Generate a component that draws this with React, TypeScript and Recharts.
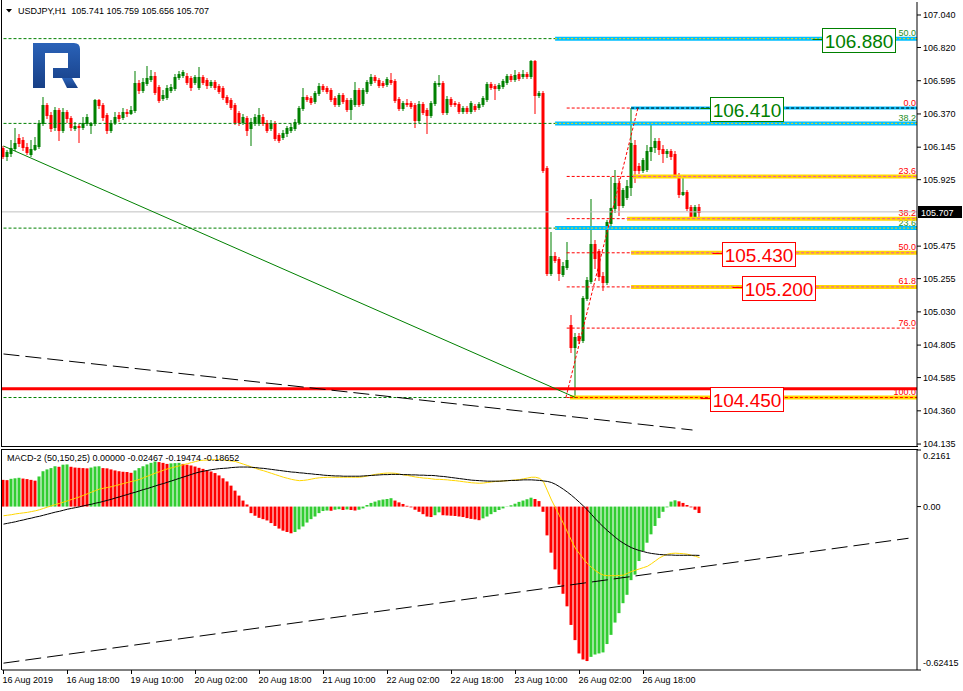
import React from 'react';
import {
  Bar,
  Cell,
  ComposedChart,
  Line,
  ReferenceDot,
  ReferenceLine,
  XAxis,
  YAxis,
} from 'recharts';

const symbol = 'USDJPY';
const period = 'H1';

// hourly candles, 16 Aug 2019 00:00 .. 26 Aug 2019 ~22:00
const openPrices = [
  106.140, 106.085, 106.106, 106.140, 106.207, 106.194, 106.146, 106.099, 106.133, 106.153,
  106.309, 106.431, 106.363, 106.282, 106.397, 106.261, 106.383, 106.343, 106.275, 106.288,
  106.282, 106.309, 106.295, 106.309, 106.465, 106.431, 106.363, 106.261, 106.316, 106.363,
  106.349, 106.383, 106.376, 106.397, 106.580, 106.532, 106.580, 106.607, 106.627, 106.553,
  106.478, 106.485, 106.532, 106.546, 106.620, 106.634, 106.627, 106.613, 106.586, 106.553,
  106.620, 106.600, 106.566, 106.586, 106.559, 106.546, 106.485, 106.465, 106.431, 106.376,
  106.316, 106.343, 106.275, 106.309, 106.309, 106.349, 106.309, 106.275, 106.309, 106.228,
  106.214, 106.241, 106.261, 106.275, 106.316, 106.410, 106.485, 106.478, 106.458, 106.512,
  106.559, 106.546, 106.532, 106.478, 106.437, 106.498, 106.465, 106.403, 106.437, 106.532,
  106.444, 106.525, 106.580, 106.620, 106.600, 106.580, 106.573, 106.600, 106.593, 106.471,
  106.410, 106.444, 106.444, 106.431, 106.329, 106.437, 106.397, 106.363, 106.444, 106.573,
  106.580, 106.383, 106.471, 106.444, 106.437, 106.390, 106.410, 106.390, 106.424, 106.417,
  106.437, 106.471, 106.573, 106.559, 106.546, 106.559, 106.586, 106.627, 106.607, 106.641,
  106.627, 106.641, 106.627, 106.729, 106.498, 106.512, 106.004, 105.293, 105.408, 105.388,
  105.286, 105.334, 104.941, 104.792, 104.866, 104.840, 105.124, 105.239, 105.490, 105.442,
  105.273, 105.232, 105.632, 105.733, 105.902, 105.753, 105.808, 105.875, 106.160, 106.018,
  105.991, 105.998, 106.119, 106.146, 106.187, 106.133, 106.106, 106.119, 106.099, 105.957,
  105.828, 105.841, 105.740, 105.666, 105.741,
];
const highPrices = [
  106.153, 106.126, 106.194, 106.275, 106.234, 106.214, 106.173, 106.194, 106.214, 106.329,
  106.485, 106.444, 106.383, 106.417, 106.410, 106.410, 106.397, 106.356, 106.316, 106.302,
  106.349, 106.370, 106.316, 106.471, 106.471, 106.444, 106.376, 106.329, 106.383, 106.383,
  106.410, 106.403, 106.424, 106.661, 106.600, 106.613, 106.695, 106.668, 106.654, 106.566,
  106.532, 106.566, 106.573, 106.641, 106.661, 106.668, 106.647, 106.627, 106.634, 106.688,
  106.634, 106.613, 106.600, 106.600, 106.573, 106.559, 106.498, 106.478, 106.444, 106.390,
  106.370, 106.356, 106.343, 106.370, 106.410, 106.370, 106.329, 106.329, 106.322, 106.241,
  106.261, 106.288, 106.302, 106.336, 106.424, 106.546, 106.498, 106.492, 106.525, 106.580,
  106.573, 106.559, 106.546, 106.492, 106.512, 106.512, 106.478, 106.478, 106.586, 106.546,
  106.546, 106.600, 106.641, 106.634, 106.613, 106.593, 106.620, 106.647, 106.607, 106.485,
  106.458, 106.471, 106.458, 106.444, 106.458, 106.451, 106.410, 106.458, 106.593, 106.634,
  106.593, 106.492, 106.485, 106.458, 106.451, 106.424, 106.424, 106.458, 106.437, 106.451,
  106.492, 106.586, 106.586, 106.573, 106.580, 106.607, 106.641, 106.641, 106.668, 106.654,
  106.668, 106.654, 106.735, 106.735, 106.525, 106.525, 106.018, 105.571, 105.435, 105.401,
  105.367, 105.503, 105.009, 104.887, 104.887, 105.137, 105.266, 105.794, 105.517, 105.456,
  105.300, 105.652, 105.943, 105.991, 105.936, 105.869, 105.923, 106.410, 106.194, 106.038,
  106.072, 106.160, 106.295, 106.207, 106.207, 106.160, 106.133, 106.133, 106.119, 105.970,
  105.943, 105.855, 105.753, 105.753, 105.759,
];
const lowPrices = [
  106.072, 106.058, 106.085, 106.126, 106.153, 106.126, 106.099, 106.085, 106.126, 106.140,
  106.295, 106.343, 106.255, 106.261, 106.194, 106.248, 106.316, 106.261, 106.261, 106.180,
  106.268, 106.295, 106.241, 106.295, 106.410, 106.329, 106.241, 106.248, 106.302, 106.322,
  106.336, 106.356, 106.370, 106.383, 106.512, 106.519, 106.566, 106.593, 106.505, 106.451,
  106.465, 106.471, 106.519, 106.532, 106.607, 106.620, 106.573, 106.532, 106.573, 106.539,
  106.573, 106.546, 106.553, 106.539, 106.512, 106.471, 106.437, 106.403, 106.302, 106.295,
  106.302, 106.228, 106.160, 106.295, 106.295, 106.295, 106.248, 106.261, 106.194, 106.180,
  106.200, 106.221, 106.248, 106.261, 106.302, 106.397, 106.458, 106.437, 106.444, 106.498,
  106.525, 106.512, 106.458, 106.424, 106.424, 106.444, 106.390, 106.336, 106.424, 106.424,
  106.431, 106.512, 106.566, 106.586, 106.553, 106.553, 106.559, 106.573, 106.451, 106.397,
  106.397, 106.424, 106.410, 106.282, 106.316, 106.370, 106.241, 106.349, 106.431, 106.559,
  106.370, 106.370, 106.424, 106.424, 106.376, 106.376, 106.376, 106.376, 106.390, 106.403,
  106.424, 106.458, 106.539, 106.471, 106.532, 106.546, 106.573, 106.593, 106.593, 106.600,
  106.613, 106.613, 106.613, 106.376, 106.485, 105.977, 105.280, 105.280, 105.367, 105.246,
  105.273, 105.320, 104.758, 104.450, 104.819, 104.826, 105.110, 105.225, 105.327, 105.246,
  105.178, 105.219, 105.611, 105.706, 105.686, 105.740, 105.794, 105.821, 105.909, 105.970,
  105.977, 105.984, 106.058, 106.112, 106.099, 106.045, 106.079, 106.065, 105.950, 105.808,
  105.821, 105.720, 105.666, 105.659, 105.656,
];
const closePrices = [
  106.085, 106.112, 106.140, 106.173, 106.173, 106.146, 106.112, 106.133, 106.160, 106.309,
  106.431, 106.363, 106.275, 106.397, 106.261, 106.383, 106.343, 106.282, 106.288, 106.282,
  106.309, 106.349, 106.309, 106.465, 106.431, 106.349, 106.261, 106.309, 106.349, 106.343,
  106.383, 106.376, 106.397, 106.580, 106.532, 106.586, 106.613, 106.627, 106.519, 106.465,
  106.498, 106.546, 106.553, 106.620, 106.641, 106.654, 106.586, 106.553, 106.620, 106.620,
  106.586, 106.566, 106.586, 106.553, 106.525, 106.485, 106.451, 106.417, 106.316, 106.316,
  106.349, 106.261, 106.316, 106.349, 106.363, 106.309, 106.261, 106.309, 106.207, 106.194,
  106.241, 106.275, 106.282, 106.316, 106.410, 106.485, 106.471, 106.451, 106.512, 106.559,
  106.539, 106.525, 106.471, 106.437, 106.498, 106.458, 106.403, 106.465, 106.532, 106.437,
  106.532, 106.586, 106.620, 106.600, 106.566, 106.566, 106.607, 106.586, 106.465, 106.410,
  106.444, 106.437, 106.424, 106.329, 106.437, 106.383, 106.363, 106.444, 106.580, 106.580,
  106.383, 106.471, 106.437, 106.437, 106.390, 106.410, 106.390, 106.444, 106.403, 106.437,
  106.478, 106.573, 106.553, 106.546, 106.566, 106.593, 106.627, 106.607, 106.634, 106.613,
  106.641, 106.627, 106.729, 106.498, 106.512, 105.991, 105.293, 105.408, 105.381, 105.293,
  105.340, 105.381, 104.792, 104.860, 104.840, 105.124, 105.246, 105.490, 105.395, 105.273,
  105.232, 105.638, 105.733, 105.902, 105.753, 105.855, 105.882, 106.173, 105.991, 105.991,
  106.058, 106.119, 106.146, 106.187, 106.133, 106.106, 106.119, 106.085, 105.957, 105.828,
  105.841, 105.733, 105.667, 105.740, 105.707,
];

// MACD-2 (50,150,25): histogram, yellow line, black line
const macdHist = [
  0.102, 0.101, 0.106, 0.108, 0.110, 0.107, 0.105, 0.102, 0.099, 0.115,
  0.135, 0.142, 0.147, 0.154, 0.152, 0.160, 0.161, 0.152, 0.149, 0.148,
  0.147, 0.146, 0.149, 0.153, 0.154, 0.147, 0.146, 0.142, 0.138, 0.135,
  0.133, 0.132, 0.129, 0.138, 0.147, 0.154, 0.161, 0.167, 0.172, 0.170,
  0.167, 0.163, 0.165, 0.166, 0.167, 0.163, 0.160, 0.157, 0.153, 0.148,
  0.144, 0.139, 0.134, 0.128, 0.119, 0.108, 0.096, 0.080, 0.061, 0.042,
  0.023, 0.008, -0.025, -0.035, -0.043, -0.048, -0.053, -0.063, -0.074, -0.084,
  -0.092, -0.097, -0.102, -0.097, -0.087, -0.076, -0.061, -0.048, -0.038, -0.025,
  -0.017, -0.015, -0.016, -0.012, -0.010, -0.013, -0.011, -0.013, -0.015, -0.012,
  -0.007, 0.006, 0.014, 0.019, 0.024, 0.027, 0.029, 0.032, 0.023, 0.016,
  0.010, 0.003, -0.003, -0.012, -0.020, -0.029, -0.038, -0.040, -0.033, -0.022,
  -0.033, -0.034, -0.035, -0.036, -0.038, -0.040, -0.044, -0.047, -0.049, -0.052,
  -0.045, -0.038, -0.029, -0.021, -0.013, -0.007, 0.001, 0.005, 0.011, 0.018,
  0.023, 0.028, 0.034, 0.029, 0.021, -0.020, -0.110, -0.176, -0.240, -0.298,
  -0.333, -0.381, -0.452, -0.510, -0.561, -0.584, -0.590, -0.574, -0.565, -0.561,
  -0.557, -0.525, -0.490, -0.443, -0.407, -0.369, -0.337, -0.281, -0.260, -0.208,
  -0.170, -0.138, -0.106, -0.074, -0.044, -0.020, -0.003, 0.019, 0.024, 0.020,
  0.014, 0.006, -0.003, -0.012, -0.02467,
];
const macdYellow = [
  -0.035, -0.033, -0.031, -0.028, -0.026, -0.024, -0.022, -0.019, -0.016, -0.012,
  -0.007, -0.002, 0.003, 0.008, 0.012, 0.017, 0.022, 0.027, 0.032, 0.037,
  0.043, 0.049, 0.055, 0.061, 0.067, 0.070, 0.073, 0.076, 0.080, 0.084,
  0.088, 0.092, 0.096, 0.099, 0.104, 0.110, 0.116, 0.122, 0.128, 0.133,
  0.139, 0.144, 0.148, 0.152, 0.156, 0.160, 0.164, 0.168, 0.172, 0.176,
  0.177, 0.178, 0.179, 0.179, 0.179, 0.178, 0.176, 0.174, 0.172, 0.167,
  0.162, 0.157, 0.151, 0.146, 0.141, 0.137, 0.132, 0.127, 0.122, 0.117,
  0.112, 0.108, 0.104, 0.101, 0.099, 0.100, 0.102, 0.105, 0.108, 0.110,
  0.111, 0.112, 0.112, 0.112, 0.112, 0.112, 0.112, 0.112, 0.112, 0.112,
  0.114, 0.117, 0.120, 0.123, 0.125, 0.127, 0.128, 0.128, 0.127, 0.124,
  0.121, 0.119, 0.116, 0.113, 0.111, 0.109, 0.108, 0.106, 0.104, 0.104,
  0.103, 0.102, 0.100, 0.099, 0.097, 0.095, 0.093, 0.091, 0.090, 0.089,
  0.090, 0.092, 0.094, 0.096, 0.097, 0.098, 0.099, 0.100, 0.102, 0.103,
  0.106, 0.109, 0.112, 0.112, 0.108, 0.095, 0.060, 0.025, -0.005, -0.035,
  -0.065, -0.098, -0.130, -0.160, -0.180, -0.200, -0.218, -0.232, -0.245, -0.255,
  -0.262, -0.264, -0.264, -0.264, -0.263, -0.262, -0.255, -0.248, -0.243, -0.238,
  -0.233, -0.228, -0.218, -0.207, -0.196, -0.188, -0.182, -0.179, -0.178, -0.179,
  -0.180, -0.182, -0.186, -0.190, -0.19474,
];
const macdBlack = [
  -0.067, -0.064, -0.061, -0.058, -0.054, -0.051, -0.047, -0.044, -0.040, -0.037,
  -0.033, -0.029, -0.025, -0.021, -0.018, -0.014, -0.010, -0.007, -0.004, -0.001,
  0.003, 0.006, 0.009, 0.013, 0.016, 0.020, 0.024, 0.028, 0.033, 0.037,
  0.042, 0.046, 0.051, 0.055, 0.060, 0.065, 0.069, 0.074, 0.079, 0.084,
  0.088, 0.093, 0.098, 0.103, 0.108, 0.113, 0.118, 0.123, 0.128, 0.132,
  0.135, 0.138, 0.141, 0.143, 0.145, 0.146, 0.147, 0.149, 0.150, 0.151,
  0.151, 0.151, 0.150, 0.149, 0.147, 0.146, 0.144, 0.142, 0.140, 0.138,
  0.136, 0.134, 0.132, 0.131, 0.129, 0.128, 0.126, 0.125, 0.123, 0.122,
  0.120, 0.119, 0.118, 0.117, 0.117, 0.116, 0.116, 0.116, 0.116, 0.116,
  0.117, 0.118, 0.119, 0.120, 0.121, 0.122, 0.122, 0.123, 0.123, 0.123,
  0.122, 0.122, 0.121, 0.121, 0.120, 0.120, 0.119, 0.119, 0.118, 0.116,
  0.115, 0.113, 0.111, 0.109, 0.107, 0.105, 0.103, 0.101, 0.100, 0.099,
  0.098, 0.097, 0.097, 0.097, 0.097, 0.098, 0.099, 0.100, 0.100, 0.101,
  0.102, 0.102, 0.102, 0.101, 0.100, 0.098, 0.096, 0.092, 0.085, 0.076,
  0.066, 0.055, 0.043, 0.030, 0.016, 0.002, -0.013, -0.030, -0.047, -0.063,
  -0.078, -0.092, -0.105, -0.118, -0.130, -0.140, -0.149, -0.157, -0.163, -0.168,
  -0.172, -0.176, -0.179, -0.181, -0.183, -0.184, -0.185, -0.185, -0.186, -0.186,
  -0.186, -0.186, -0.186, -0.186, -0.18652,
];

const timeTickBars = [0, 16, 32, 48, 64, 80, 96, 112, 128, 144, 160];
const timeTickLabels = [
  '16 Aug 2019', '16 Aug 18:00', '19 Aug 10:00', '20 Aug 02:00', '20 Aug 18:00',
  '21 Aug 10:00', '22 Aug 02:00', '22 Aug 18:00', '23 Aug 10:00', '26 Aug 02:00', '26 Aug 18:00',
];
const priceTicks = [
  107.04, 106.82, 106.595, 106.37, 106.145, 105.925, 105.475, 105.255, 105.03, 104.805,
  104.585, 104.36, 104.135,
];
const macdTicks = [0.2161, 0, -0.62415];
const macdTickLabels = ['0.2161', '0.00', '-0.62415'];

// red fibo: 26 Aug low 104.45 -> high 106.41
const redFibRatios = ['0.0', '23.6', '38.2', '50.0', '61.8', '76.0', '100.0'];
const redFibPrices = [106.41, 105.947, 105.661, 105.43, 105.199, 104.92, 104.45];
// green fibo, only the levels that fall on the chart
const greenFibRatios = ['50.0', '38.2', '23.6'];
const greenFibPrices = [106.88, 106.306, 105.597];
const greenFibBase = 104.45;
const supportPrice = 104.51;
const tagPrices = [106.88, 106.41, 105.43, 105.2, 104.45];
const tagLabels = ['106.880', '106.410', '105.430', '105.200', '104.450'];

// trend lines, [bar, value] pairs
const greenTrend = [[0, 106.153], [143, 104.45]];
const priceDashTrend = [[0, 104.745], [172.25, 104.23]];
const fibDiagonal = [[140.6, 104.45], [158.6, 106.41]];
const macdDashTrend = [[0, -0.598], [226.25, -0.121]];

const candles = openPrices.map((open, i) => ({
  bar: i,
  open,
  high: highPrices[i],
  low: lowPrices[i],
  close: closePrices[i],
  range: [lowPrices[i], highPrices[i]],
}));
const macdRows = macdHist.map((hist, i) => ({
  bar: i,
  hist,
  yellow: macdYellow[i],
  black: macdBlack[i],
}));

const FONT = '"Liberation Sans", Arial, sans-serif';
const X0 = -0.375;
const X1 = 228.375;
const PRICE_MIN = 104.115;
const PRICE_MAX = 107.128;
const BULL = '#008000';
const BEAR = '#ff0000';
const FIB_GREEN = '#1f8f1f';
const CYAN = '#00bfff';
const GOLD = '#ffd700';
const PINK = '#e64fc0';

// where each drawn object starts, in bars
const RAY_START = 140.8;
const CYAN_START = 137.9;
const yellowStarts: Record<string, number> = { '23.6': 157.4, '38.2': 155.9, '50.0': 156.9, '61.8': 156.9, '100.0': 141.6 };
const ZERO_START = 156.9;
const tagBars = [204.6, 176.6, 179.6, 184.6, 176.6];
const tagColors = [BULL, BULL, BEAR, BEAR, BEAR];

function Candle(props: any) {
  const { x, y, width, height, payload } = props;
  if (x == null || !payload) return null;
  const { open, close, high, low } = payload;
  const top = Math.min(y, y + height);
  const span = Math.abs(height);
  const py = (p: number) => top + ((high - p) / (high - low || 1)) * span;
  const c = x + width / 2;
  const color = close >= open ? BULL : BEAR;
  const b0 = Math.round(py(Math.max(open, close)));
  const b1 = Math.round(py(Math.min(open, close)));
  const w0 = Math.round(top);
  const w1 = Math.round(top + span);
  return (
    <g>
      <rect x={c - 0.5} y={w0} width={1} height={Math.max(1, w1 - w0 + 1)} fill={color} />
      <rect x={c - 1.5} y={b0} width={3} height={Math.max(1, b1 - b0 + 1)} fill={color} />
    </g>
  );
}

function PriceTick(props: any) {
  const { x, y, payload } = props;
  return (
    <text x={x} y={y + 3.2} fontSize={9} fontFamily={FONT} fill="#000">
      {Number(payload.value).toFixed(3)}
    </text>
  );
}

function MacdTick(props: any) {
  const { x, y, payload } = props;
  const i = macdTicks.indexOf(payload.value);
  const dy = i === 0 ? 9 : i === 2 ? -4 : 3.2;
  return (
    <text x={x} y={y + dy} fontSize={9} fontFamily={FONT} fill="#000">
      {macdTickLabels[i]}
    </text>
  );
}

function TimeTick(props: any) {
  const { x, y, payload } = props;
  const i = timeTickBars.indexOf(payload.value);
  return (
    <text x={x - 1} y={y + 7} fontSize={9} fontFamily={FONT} fill="#000">
      {timeTickLabels[i]}
    </text>
  );
}

function LevelTag(props: any) {
  const { viewBox, text, color } = props;
  if (!viewBox) return null;
  return (
    <text
      x={viewBox.x + viewBox.width - 1}
      y={viewBox.y - 2.5}
      textAnchor="end"
      fontSize={9}
      fontFamily={FONT}
      fill={color}
    >
      {text}
    </text>
  );
}

function BidTag(props: any) {
  const { viewBox, text } = props;
  if (!viewBox) return null;
  const right = viewBox.x + viewBox.width;
  const y = Math.round(viewBox.y);
  return (
    <g>
      <rect x={right + 1} y={y - 6} width={44} height={12} fill="#000" />
      <text x={right + 4} y={y + 3.5} fontSize={9} fontFamily={FONT} fill="#fff">
        {text}
      </text>
    </g>
  );
}

function PriceBox(props: any) {
  const { cx, cy, text, color } = props;
  if (cx == null || cy == null) return null;
  const left = Math.round(cx) + 0.5;
  const mid = Math.round(cy) + 0.5;
  const top = Math.round(cy) - 10.5;
  return (
    <g>
      <line x1={left - 10} x2={left} y1={mid} y2={mid} stroke={color} strokeWidth={1} />
      <rect x={left} y={top} width={73} height={24} fill="#fff" stroke={color} strokeWidth={1} />
      <text x={left + 36.5} y={top + 19} textAnchor="middle" fontSize={19} fontFamily={FONT} fill={color}>
        {text}
      </text>
    </g>
  );
}

const seg = (a: number, b: number, v: number) => [
  { x: a, y: v },
  { x: b, y: v },
];
const pts = (p: number[][]) => p.map(([x, y]) => ({ x, y }));

export default function App() {
  const last = closePrices.length - 1;
  const header = `${symbol},${period}  ${openPrices[last].toFixed(3)} ${highPrices[last].toFixed(3)} ${lowPrices[last].toFixed(3)} ${closePrices[last].toFixed(3)}`;
  const macdHeader = `MACD-2 (50,150,25) 0.00000 ${macdHist[last].toFixed(5)} ${macdYellow[last].toFixed(5)} ${macdBlack[last].toFixed(5)}`;

  return (
    <div style={{ position: 'absolute', left: 0, top: 0, width: 963, height: 691, background: '#fff', overflow: 'hidden' }}>
      <div style={{ position: 'absolute', left: 0, top: 0 }}>
        <ComposedChart width={963} height={449} data={candles} margin={{ top: 2, right: 0, bottom: 2, left: 2 }}>
          <XAxis dataKey="bar" type="number" domain={[X0, X1]} allowDataOverflow hide />
          <YAxis
            orientation="right"
            width={46}
            domain={[PRICE_MIN, PRICE_MAX]}
            allowDataOverflow
            ticks={priceTicks}
            interval={0}
            tickSize={4}
            tickMargin={2}
            axisLine={{ stroke: '#000' }}
            tickLine={{ stroke: '#000' }}
            tick={<PriceTick />}
          />

          {/* green fibo, dotted part */}
          {greenFibPrices.map((p) => (
            <ReferenceLine key={`gd${p}`} segment={seg(0, CYAN_START, p)} stroke={BULL} strokeDasharray="3 2" ifOverflow="hidden" />
          ))}
          <ReferenceLine segment={seg(0, RAY_START, greenFibBase)} stroke={BULL} strokeDasharray="3 2" ifOverflow="hidden" />

          {/* green fibo levels as cyan rays */}
          {greenFibPrices.map((p, i) => (
            <ReferenceLine
              key={`gc${p}`}
              segment={seg(CYAN_START, X1, p)}
              stroke={CYAN}
              strokeWidth={4}
              ifOverflow="hidden"
              label={<LevelTag text={greenFibRatios[i]} color={FIB_GREEN} />}
            />
          ))}
          {greenFibPrices.map((p) => (
            <ReferenceLine key={`gy${p}`} segment={seg(CYAN_START, X1, p)} stroke={GOLD} strokeDasharray="2 2" ifOverflow="hidden" />
          ))}

          {/* red fibo rays */}
          {redFibPrices.map((p, i) => (
            <ReferenceLine
              key={`rr${p}`}
              segment={seg(RAY_START, X1, p)}
              stroke={BEAR}
              strokeDasharray="3 2"
              ifOverflow="hidden"
              label={<LevelTag text={redFibRatios[i]} color={BEAR} />}
            />
          ))}
          {redFibPrices.map((p, i) =>
            yellowStarts[redFibRatios[i]] != null ? (
              <ReferenceLine key={`ry${p}`} segment={seg(yellowStarts[redFibRatios[i]], X1, p)} stroke={GOLD} strokeWidth={4} ifOverflow="hidden" />
            ) : null
          )}
          {redFibPrices.map((p, i) =>
            yellowStarts[redFibRatios[i]] != null ? (
              <ReferenceLine
                key={`rp${p}`}
                segment={seg(yellowStarts[redFibRatios[i]], X1, p)}
                stroke={redFibRatios[i] === '100.0' ? BEAR : PINK}
                strokeDasharray="3 2"
                ifOverflow="hidden"
              />
            ) : null
          )}
          <ReferenceLine segment={seg(ZERO_START, X1, redFibPrices[0])} stroke={CYAN} strokeWidth={3} ifOverflow="hidden" />
          <ReferenceLine segment={seg(ZERO_START, X1, redFibPrices[0])} stroke="#000" strokeDasharray="3 2" ifOverflow="hidden" />

          <ReferenceLine y={supportPrice} stroke={BEAR} strokeWidth={3} />
          <ReferenceLine
            y={closePrices[last]}
            stroke="#c0c0c0"
            label={<BidTag text={closePrices[last].toFixed(3)} />}
          />

          <ReferenceLine segment={pts(greenTrend)} stroke={BULL} ifOverflow="hidden" />
          <ReferenceLine segment={pts(priceDashTrend)} stroke="#000" strokeDasharray="16 6" ifOverflow="hidden" />
          <ReferenceLine segment={pts(fibDiagonal)} stroke={BEAR} strokeDasharray="3 2" ifOverflow="hidden" />

          <Bar dataKey="range" barSize={3} shape={<Candle />} isAnimationActive={false} />

          {tagPrices.map((p, i) => (
            <ReferenceDot
              key={`tag${p}`}
              x={tagBars[i]}
              y={p}
              r={1}
              ifOverflow="visible"
              shape={(sp: any) => <PriceBox {...sp} text={tagLabels[i]} color={tagColors[i]} />}
            />
          ))}
        </ComposedChart>
      </div>

      <div style={{ position: 'absolute', left: 0, top: 449 }}>
        <ComposedChart width={963} height={242} data={macdRows} margin={{ top: 1, right: 0, bottom: 0, left: 2 }}>
          <XAxis
            dataKey="bar"
            type="number"
            domain={[X0, X1]}
            allowDataOverflow
            ticks={timeTickBars}
            interval={0}
            height={21}
            tickSize={4}
            tickMargin={2}
            axisLine={{ stroke: '#000' }}
            tickLine={{ stroke: '#000' }}
            tick={<TimeTick />}
          />
          <YAxis
            orientation="right"
            width={46}
            domain={[macdTicks[2], macdTicks[0]]}
            allowDataOverflow
            ticks={macdTicks}
            interval={0}
            tickSize={4}
            tickMargin={2}
            axisLine={{ stroke: '#000' }}
            tickLine={{ stroke: '#000' }}
            tick={<MacdTick />}
          />
          <Bar dataKey="hist" barSize={3} isAnimationActive={false}>
            {macdHist.map((v, i) => (
              <Cell key={i} fill={i > 0 && v > macdHist[i - 1] ? '#32cd32' : '#ff0000'} />
            ))}
          </Bar>
          <Line dataKey="yellow" type="linear" stroke={GOLD} strokeWidth={1} dot={false} isAnimationActive={false} />
          <Line dataKey="black" type="linear" stroke="#000" strokeWidth={1} dot={false} isAnimationActive={false} />
          <ReferenceLine segment={pts(macdDashTrend)} stroke="#000" strokeDasharray="16 6" ifOverflow="hidden" />
        </ComposedChart>
      </div>

      <svg width={963} height={691} style={{ position: 'absolute', left: 0, top: 0, pointerEvents: 'none' }}>
        <g stroke="#000" strokeWidth={1} shapeRendering="crispEdges">
          <line x1={1.5} y1={0} x2={1.5} y2={447} />
          <line x1={1.5} y1={449} x2={1.5} y2={670} />
          <line x1={1} y1={446.5} x2={918} y2={446.5} />
          <line x1={1} y1={449.5} x2={918} y2={449.5} />
        </g>
        <polygon points="6,9 12,9 9,12.5" fill="#000" />
        <text x={18} y={14} fontSize={9} fontFamily={FONT} fill="#000" style={{ whiteSpace: 'pre' }}>
          {header}
        </text>
        <text x={7} y={461} fontSize={9} fontFamily={FONT} fill="#000" style={{ whiteSpace: 'pre' }}>
          {macdHeader}
        </text>
        <defs>
          <linearGradient id="logoFill" x1="0" y1="0" x2="0" y2="1">
            <stop offset="0" stopColor="#2a62b8" />
            <stop offset="1" stopColor="#173f86" />
          </linearGradient>
        </defs>
        <path d="M33 43 H74 Q80 43 80 49 V78 H53 V68 H68 V53 H45 V88 H33 Z" fill="url(#logoFill)" />
        <path d="M62 78 H72 L78 88 H67 Z" fill="url(#logoFill)" />
      </svg>
    </div>
  );
}
